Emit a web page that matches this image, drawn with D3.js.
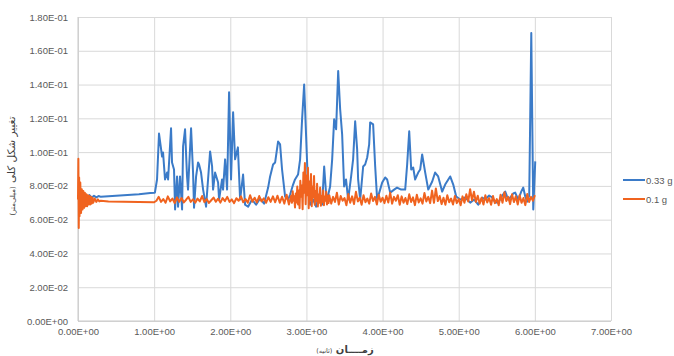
<!DOCTYPE html>
<html>
<head>
<meta charset="utf-8">
<script src="https://cdn.jsdelivr.net/npm/d3@7"></script>
<style>
  body { margin: 0; background: #fff; }
  svg { display: block; }
  .tick text { font-family: "Liberation Sans", Arial, sans-serif; font-size: 9.5px; fill: #595959; }
  .fa { font-family: "DejaVu Sans", sans-serif; fill: #404040; }
</style>
</head>
<body>
<div id="chart"></div>
<script>
// tick values
const xTicks = [0, 1, 2, 3, 4, 5, 6, 7];
const yTicks = [0, 0.02, 0.04, 0.06, 0.08, 0.1, 0.12, 0.14, 0.16, 0.18];

const seriesNames = ["0.33 g", "0.1 g"];

// 0.33 g series [time (s), deformation]
const blue033 = [
  [0.03, 0.074], [0.06, 0.072], [0.09, 0.0745], [0.12, 0.0725], [0.15, 0.0745], [0.18, 0.073],
  [0.21, 0.0742], [0.24, 0.0732], [0.27, 0.074], [0.30, 0.0735], [0.40, 0.0738], [0.60, 0.0745],
  [0.80, 0.075], [0.95, 0.0758], [1.01, 0.076], [1.038, 0.0838], [1.064, 0.111], [1.104, 0.0974],
  [1.117, 0.0998], [1.143, 0.0838], [1.17, 0.0879], [1.183, 0.0838], [1.222, 0.1141], [1.235, 0.0939],
  [1.261, 0.0897], [1.275, 0.066], [1.301, 0.0856], [1.314, 0.0677], [1.34, 0.0856], [1.367, 0.066],
  [1.38, 0.1034], [1.406, 0.1135], [1.432, 0.0856], [1.445, 0.0778], [1.485, 0.1141], [1.511, 0.0879],
  [1.524, 0.0671], [1.551, 0.0856], [1.577, 0.0939], [1.59, 0.0927], [1.616, 0.0879], [1.643, 0.0778],
  [1.682, 0.0677], [1.708, 0.0838], [1.735, 0.1004], [1.761, 0.0915], [1.774, 0.0778], [1.80, 0.0879],
  [1.84, 0.082], [1.853, 0.0719], [1.892, 0.0838], [1.905, 0.0778], [1.932, 0.0957], [1.958, 0.0778],
  [1.984, 0.1355], [2.01, 0.0838], [2.037, 0.1236], [2.063, 0.0957], [2.10, 0.1028], [2.129, 0.0719],
  [2.168, 0.0867], [2.194, 0.0689], [2.234, 0.0677], [2.286, 0.0719], [2.339, 0.0689], [2.392, 0.0725],
  [2.444, 0.0695], [2.497, 0.079], [2.523, 0.0856], [2.562, 0.0927], [2.589, 0.0939], [2.628, 0.1063],
  [2.654, 0.1046], [2.68, 0.0897], [2.72, 0.0737], [2.76, 0.0719], [2.786, 0.0749], [2.825, 0.0808],
  [2.85, 0.0838], [2.89, 0.0867], [2.917, 0.0957], [2.943, 0.1194], [2.97, 0.140], [2.996, 0.1093],
  [3.022, 0.0778], [3.049, 0.0689], [3.088, 0.0719], [3.127, 0.0677], [3.167, 0.0749], [3.206, 0.0689],
  [3.233, 0.0915], [3.259, 0.0749], [3.272, 0.0719], [3.311, 0.0796], [3.338, 0.0957], [3.364, 0.1194],
  [3.39, 0.1135], [3.417, 0.148], [3.443, 0.1254], [3.469, 0.1105], [3.495, 0.0796], [3.52, 0.0838],
  [3.548, 0.0719], [3.587, 0.0856], [3.613, 0.0957], [3.64, 0.1182], [3.666, 0.1016], [3.679, 0.0838],
  [3.706, 0.0719], [3.745, 0.0915], [3.771, 0.0927], [3.798, 0.0968], [3.824, 0.1046], [3.837, 0.1176],
  [3.876, 0.1164], [3.903, 0.0915], [3.929, 0.0719], [3.968, 0.0778], [3.995, 0.082], [4.034, 0.085],
  [4.06, 0.0838], [4.10, 0.076], [4.152, 0.0778], [4.19, 0.079], [4.244, 0.0778], [4.297, 0.0778],
  [4.323, 0.0927], [4.35, 0.1123], [4.376, 0.0897], [4.402, 0.0909], [4.428, 0.0838], [4.468, 0.0879],
  [4.494, 0.0897], [4.52, 0.0986], [4.56, 0.0879], [4.60, 0.0778], [4.652, 0.0826], [4.69, 0.0879],
  [4.73, 0.0856], [4.783, 0.0766], [4.822, 0.0808], [4.888, 0.0856], [4.928, 0.0808], [4.967, 0.0737],
  [5.02, 0.0719], [5.085, 0.0731], [5.151, 0.0701], [5.204, 0.0719], [5.256, 0.0689], [5.309, 0.0731],
  [5.348, 0.0719], [5.40, 0.0743], [5.44, 0.0731], [5.48, 0.0701], [5.52, 0.0701], [5.572, 0.0743],
  [5.611, 0.0766], [5.65, 0.0719], [5.677, 0.0731], [5.716, 0.0755], [5.742, 0.076], [5.782, 0.0719],
  [5.821, 0.0766], [5.847, 0.079], [5.874, 0.0737], [5.90, 0.0707], [5.926, 0.0743], [5.953, 0.1705],
  [5.979, 0.066], [6.005, 0.0945]
];

// 0.1 g series [time (s), deformation]
const orange01 = [
  [0, 0.072], [0.005, 0.096], [0.01, 0.055], [0.015, 0.085], [0.02, 0.062], [0.03, 0.082], [0.04, 0.064],
  [0.05, 0.078], [0.06, 0.066], [0.07, 0.077], [0.08, 0.067], [0.09, 0.076], [0.10, 0.068], [0.11, 0.075],
  [0.12, 0.068], [0.13, 0.0745], [0.14, 0.069], [0.15, 0.074], [0.16, 0.069], [0.17, 0.0735], [0.18, 0.0695],
  [0.19, 0.073], [0.20, 0.070], [0.22, 0.0725], [0.24, 0.0705], [0.26, 0.072], [0.28, 0.0708], [0.30, 0.0712],
  [0.40, 0.0708], [0.60, 0.0706], [0.80, 0.0704],
  [1.00, 0.0703], [1.03, 0.0712], [1.06, 0.0735], [1.09, 0.0705], [1.12, 0.0722], [1.15, 0.0700],
  [1.18, 0.0738], [1.21, 0.0708], [1.24, 0.0725], [1.27, 0.0698], [1.30, 0.0732], [1.33, 0.0706],
  [1.36, 0.0728], [1.39, 0.0702], [1.42, 0.0718], [1.45, 0.0735], [1.48, 0.0705], [1.51, 0.0720],
  [1.54, 0.0700], [1.57, 0.0725], [1.60, 0.0708], [1.63, 0.0740], [1.66, 0.0704], [1.69, 0.0722],
  [1.72, 0.0699], [1.75, 0.0715], [1.78, 0.0731], [1.81, 0.0706], [1.84, 0.0724], [1.87, 0.0701],
  [1.90, 0.0728], [1.93, 0.0710], [1.96, 0.0735], [1.99, 0.0705], [2.02, 0.0720], [2.05, 0.0698],
  [2.08, 0.0727], [2.11, 0.0712], [2.14, 0.0738], [2.17, 0.0703], [2.20, 0.0722], [2.23, 0.0700],
  [2.26, 0.0745], [2.29, 0.0706], [2.32, 0.0730], [2.35, 0.0702], [2.38, 0.0740], [2.41, 0.0708],
  [2.44, 0.0726], [2.47, 0.0700], [2.50, 0.0733], [2.53, 0.0705], [2.56, 0.0738], [2.59, 0.0703],
  [2.62, 0.0742], [2.65, 0.0700], [2.68, 0.0736], [2.71, 0.0695], [2.74, 0.0748], [2.77, 0.0690],
  [2.80, 0.0742], [2.81, 0.0700], [2.82, 0.0768], [2.83, 0.0712], [2.84, 0.0738], [2.85, 0.0672],
  [2.86, 0.0755], [2.87, 0.0702], [2.88, 0.0796], [2.89, 0.0690], [2.90, 0.0772], [2.91, 0.0668],
  [2.92, 0.0830], [2.93, 0.0735], [2.94, 0.0802], [2.95, 0.0662], [2.96, 0.0880], [2.97, 0.0760],
  [2.98, 0.0936], [2.99, 0.0692], [3.00, 0.0862], [3.01, 0.0745], [3.02, 0.0908], [3.03, 0.0668],
  [3.04, 0.0826], [3.05, 0.0715], [3.06, 0.0870], [3.07, 0.0680], [3.08, 0.0795], [3.09, 0.0732],
  [3.10, 0.0858], [3.11, 0.0688], [3.12, 0.0770], [3.13, 0.0710], [3.14, 0.0812], [3.15, 0.0678],
  [3.16, 0.0748], [3.17, 0.0700], [3.18, 0.0790], [3.19, 0.0683], [3.20, 0.0740], [3.21, 0.0705],
  [3.22, 0.0772], [3.23, 0.0686], [3.24, 0.0735], [3.25, 0.0712], [3.26, 0.0765], [3.27, 0.0690],
  [3.28, 0.0742], [3.29, 0.0698],
  [3.300, 0.0745], [3.325, 0.0695], [3.350, 0.0735], [3.375, 0.0705], [3.400, 0.0760], [3.425, 0.0690],
  [3.450, 0.0740], [3.475, 0.0712], [3.500, 0.0728], [3.525, 0.0685], [3.550, 0.0752], [3.575, 0.0700],
  [3.600, 0.0738], [3.625, 0.0692], [3.650, 0.0765], [3.675, 0.0708], [3.700, 0.0730], [3.725, 0.0688],
  [3.750, 0.0745], [3.775, 0.0703], [3.800, 0.0725], [3.825, 0.0695], [3.850, 0.0755], [3.875, 0.0710],
  [3.900, 0.0735], [3.925, 0.0690], [3.950, 0.0748], [3.975, 0.0706], [4.000, 0.0730], [4.025, 0.0698],
  [4.050, 0.0742], [4.075, 0.0702], [4.100, 0.0760], [4.125, 0.0695], [4.150, 0.0735], [4.175, 0.0712],
  [4.200, 0.0745], [4.225, 0.0688], [4.250, 0.0738], [4.275, 0.0700], [4.300, 0.0728], [4.325, 0.0692],
  [4.350, 0.0750], [4.375, 0.0705], [4.400, 0.0732], [4.425, 0.0686], [4.450, 0.0748], [4.475, 0.0702],
  [4.500, 0.0726], [4.525, 0.0695], [4.550, 0.0758], [4.575, 0.0708], [4.600, 0.0735], [4.625, 0.0698],
  [4.650, 0.0772], [4.675, 0.0700], [4.700, 0.0785], [4.725, 0.0710], [4.750, 0.0740], [4.775, 0.0692],
  [4.800, 0.0730], [4.825, 0.0688], [4.850, 0.0745], [4.875, 0.0703], [4.900, 0.0725], [4.925, 0.0690],
  [4.950, 0.0740], [4.975, 0.0698], [5.000, 0.0722], [5.025, 0.0685], [5.050, 0.0738], [5.075, 0.0700],
  [5.100, 0.0750], [5.125, 0.0708], [5.150, 0.0780], [5.175, 0.0715], [5.200, 0.0765], [5.225, 0.0705],
  [5.250, 0.0742], [5.275, 0.0695], [5.300, 0.0730], [5.325, 0.0690], [5.350, 0.0745], [5.375, 0.0702],
  [5.400, 0.0728], [5.425, 0.0688], [5.450, 0.0740], [5.475, 0.0698], [5.500, 0.0722], [5.525, 0.0685],
  [5.550, 0.0748], [5.575, 0.0700], [5.600, 0.0762], [5.625, 0.0710], [5.650, 0.0735], [5.675, 0.0692],
  [5.700, 0.0750], [5.725, 0.0704], [5.750, 0.0738], [5.775, 0.0690], [5.800, 0.0745], [5.825, 0.0700],
  [5.850, 0.0728], [5.875, 0.0686], [5.900, 0.0752], [5.925, 0.0705], [5.950, 0.0735], [5.975, 0.0712],
  [6.000, 0.0745]
];

const W = 674, H = 356;
const plotLeft = 78, plotRight = 611, plotTop = 17, plotBottom = 321;
const blueColor = "#3b7bc8";
const orangeColor = "#f0631f";

// Excel style scientific labels like 1.80E-01
function sci(v) {
  if (Math.abs(v) < 1e-12) return "0.00E+00";
  let e = Math.floor(Math.log10(Math.abs(v)) + 1e-9);
  let m = v / Math.pow(10, e);
  let es = (e < 0 ? "-" : "+") + String(Math.abs(e)).padStart(2, "0");
  return m.toFixed(2) + "E" + es;
}

const svg = d3.select("#chart").append("svg")
  .attr("width", W)
  .attr("height", H);

const x = d3.scaleLinear().domain([0, 7]).range([plotLeft, plotRight]);
const y = d3.scaleLinear().domain([0, 0.18]).range([plotBottom, plotTop]);

// horizontal grid + y labels
const yAxis = svg.append("g")
  .attr("transform", "translate(" + plotLeft + ",0)")
  .call(d3.axisLeft(y).tickValues(yTicks).tickFormat(sci)
    .tickSizeInner(-(plotRight - plotLeft)).tickSizeOuter(0).tickPadding(10));
yAxis.select(".domain").remove();
yAxis.selectAll(".tick line").attr("stroke", "#d9d9d9");

// vertical grid + x labels
const xAxis = svg.append("g")
  .attr("transform", "translate(0," + plotBottom + ")")
  .call(d3.axisBottom(x).tickValues(xTicks).tickFormat(sci)
    .tickSizeInner(-(plotBottom - plotTop)).tickSizeOuter(0).tickPadding(7));
xAxis.select(".domain").remove();
xAxis.selectAll(".tick line").attr("stroke", "#d9d9d9");

// axis lines
svg.append("line").attr("x1", plotLeft).attr("x2", plotRight).attr("y1", plotBottom).attr("y2", plotBottom)
  .attr("stroke", "#c8c8c8");
svg.append("line").attr("x1", plotLeft).attr("x2", plotLeft).attr("y1", plotTop).attr("y2", plotBottom)
  .attr("stroke", "#c8c8c8");

const line = d3.line()
  .x(d => x(d[0]))
  .y(d => y(d[1]));

svg.append("path")
  .datum(blue033)
  .attr("fill", "none")
  .attr("stroke", blueColor)
  .attr("stroke-width", 2)
  .attr("stroke-linejoin", "round")
  .attr("d", line);

svg.append("path")
  .datum(orange01)
  .attr("fill", "none")
  .attr("stroke", orangeColor)
  .attr("stroke-width", 2)
  .attr("stroke-linejoin", "round")
  .attr("d", line);

// legend
const legend = svg.append("g").attr("transform", "translate(623,180)");
[blueColor, orangeColor].forEach((c, i) => {
  const g = legend.append("g").attr("transform", "translate(0," + (i * 19) + ")");
  g.append("line").attr("x1", 0).attr("x2", 22).attr("stroke", c).attr("stroke-width", 2);
  g.append("text").attr("x", 23).attr("y", 3.5)
    .style("font-family", "Liberation Sans, Arial, sans-serif")
    .style("font-size", "9.5px").style("fill", "#595959")
    .text(seriesNames[i]);
});

// y axis title
const yt = svg.append("text")
  .attr("class", "fa")
  .attr("transform", "translate(15,166) rotate(-90)")
  .attr("text-anchor", "middle")
  .attr("direction", "rtl")
  .style("font-size", "10.5px");
yt.append("tspan").text("تغییر شکل کلی ");
yt.append("tspan").style("font-size", "7px").text("(میلی‌متر)");

// x axis title
const xt = svg.append("text")
  .attr("class", "fa")
  .attr("x", 345).attr("y", 353)
  .attr("text-anchor", "middle")
  .attr("direction", "rtl")
  .style("font-size", "10px").style("font-weight", "bold");
xt.append("tspan").text("زمــــان ");
xt.append("tspan").style("font-size", "6.5px").style("font-weight", "normal").text("(ثانیه)");
</script>
</body>
</html>
